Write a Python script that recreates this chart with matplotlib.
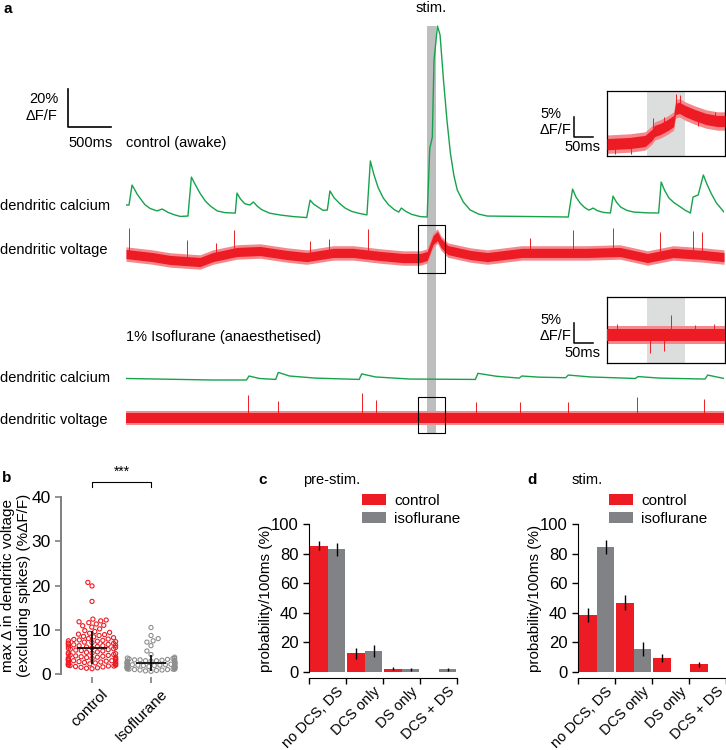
import numpy as np
import pandas as pd
import matplotlib
matplotlib.use('Agg')
import matplotlib.pyplot as plt
import seaborn as sns
from matplotlib.patches import Rectangle, Patch
from matplotlib.transforms import ScaledTranslation

plt.rcParams['font.family'] = ['Liberation Sans', 'DejaVu Sans']

W, H = 726, 750
RED = '#ed1c24'
LRED = '#f4888c'
GREEN = '#16a34c'
BGRAY = '#808285'
PGRAY = '#8f8f8f'
STIM = '#bcbec0'
LGRAY = '#dcdddd'

####################################### DATA #######################################

# panel a: stimulation window (s) and zoom window shown in the insets
stim_on, stim_off = 3.50, 3.60
zoom_t0, zoom_len = 3.395, 0.31

# control (awake) dendritic calcium, time (s) / dF/F (%)
ctrl_ca_t = [0.00, 0.035, 0.07, 0.10, 0.13, 0.17, 0.22, 0.28, 0.36, 0.42, 0.49, 0.56, 0.63, 0.72,
             0.76, 0.80, 0.86, 0.92, 0.98, 1.06, 1.15, 1.24, 1.27,
             1.29, 1.33, 1.38, 1.44, 1.48, 1.53, 1.58, 1.67, 1.80, 1.95, 2.10,
             2.14, 2.18, 2.23, 2.29, 2.34, 2.37, 2.42, 2.49, 2.55, 2.62, 2.70, 2.80,
             2.84, 2.88, 2.93, 2.99, 3.05, 3.12, 3.17, 3.20, 3.25, 3.32, 3.42, 3.50,
             3.53, 3.56, 3.58, 3.62, 3.65, 3.69, 3.73, 3.77, 3.81, 3.85, 3.92, 4.00, 4.10, 4.20,
             4.60, 5.14,
             5.19, 5.23, 5.28, 5.33, 5.38, 5.43, 5.48, 5.55, 5.63,
             5.66, 5.70, 5.75, 5.82, 5.90, 6.05, 6.19,
             6.22, 6.26, 6.31, 6.37, 6.44, 6.50, 6.56,
             6.59, 6.65, 6.71, 6.75, 6.80, 6.86, 6.93, 6.95]
ctrl_ca_v = [6.3, 6.3, 16.8, 14.5, 12.0, 9.5, 6.5, 4.5, 3.2, 4.2, 2.4, 1.2, 0.3, 0.5,
             21.0, 17.5, 12.5, 8.5, 5.8, 3.2, 2.3, 2.1, 2.1,
             12.6, 9.5, 7.0, 6.3, 7.9, 5.5, 3.8, 2.0, 1.0, 0.2, -0.3,
             8.9, 6.8, 5.3, 3.5, 3.7, 13.7, 10.0, 6.8, 4.6, 3.0, 2.0, 1.1,
             29.5, 22.5, 15.5, 10.0, 6.5, 3.8, 2.6, 4.7, 3.0, 1.4, 0.2, 0.0,
             36.0, 42.0, 82.6, 100.5, 95.8, 72.0, 51.0, 33.7, 22.0, 14.2, 7.9, 3.7, 1.5, 0.5,
             0.3, 0.0,
             14.7, 10.5, 7.2, 5.0, 3.6, 4.7, 3.3, 2.4, 2.1,
             11.0, 7.8, 5.2, 3.5, 2.6, 2.2, 2.1,
             18.4, 14.0, 10.0, 7.5, 5.4, 3.5, 2.1,
             10.5, 11.6, 22.1, 17.5, 12.5, 7.5, 3.7, 2.6]

# control (awake) dendritic voltage: slow baseline and spikes
ctrl_vm_t = [0, 0.31, 0.51, 0.86, 1.01, 1.29, 1.56, 1.87, 2.10, 2.41, 2.64, 2.95, 3.22, 3.42, 3.50,
             3.57, 3.62, 3.66, 3.74, 4.00, 4.20, 4.60, 4.97, 5.36, 5.74, 6.06, 6.36, 6.71, 6.95]
ctrl_vm_v = [0.5, -1.1, -2.6, -3.7, -1.1, 1.6, 2.1, 0.0, -1.1, 1.1, 1.1, -0.5, -1.6, -1.6, -0.5,
             7.9, 10.0, 6.3, 2.6, 0.0, -1.1, 1.1, 1.1, 1.1, 1.6, -1.6, 1.1, 0.0, -1.1]
ctrl_spk_t = [0.03, 0.71, 1.05, 1.26, 2.14, 2.36, 2.81, 4.69, 5.19, 5.66, 6.21, 6.59, 6.70]
ctrl_spk_h = [13.7, 11.1, 6.8, 12.1, 8.4, 7.9, 13.7, 7.9, 12.1, 12.6, 12.1, 12.1, 12.1]

# 1% isoflurane dendritic calcium
iso_ca_t = [0, 1.0, 1.40, 1.43, 1.55, 1.74, 1.77, 1.9, 2.2, 2.71, 2.74, 2.9, 3.3, 4.06, 4.09, 4.3,
            4.57, 4.60, 4.8, 5.11, 5.14, 5.4, 5.92, 5.95, 6.2, 6.73, 6.76, 6.95]
iso_ca_v = [0.8, 0.0, 0.0, 2.1, 0.8, 0.3, 4.0, 2.1, 1.0, 0.3, 3.2, 1.6, 0.5, 0.3, 3.5, 2.0,
            1.0, 2.1, 1.5, 1.2, 2.6, 1.6, 0.8, 1.8, 1.0, 0.5, 2.6, 0.8]

# 1% isoflurane dendritic voltage
iso_vm_t = [0, 3.5, 6.95]
iso_vm_v = [0.0, 0.0, 0.0]
iso_spk_t = [1.42, 1.77, 2.74, 2.91, 4.07, 4.58, 5.14, 5.94, 6.72]
iso_spk_h = [12.1, 8.9, 13.2, 9.5, 8.4, 8.4, 8.4, 11.1, 10.0]

# insets (zoom around stim), time (ms) / dF/F (%)
ins_ctrl_t = [0, 60, 100, 118, 125, 140, 160, 175, 180, 190, 205, 230, 260, 290, 310]
ins_ctrl_v = [-0.3, 0.0, 0.5, 2.0, 3.0, 3.5, 4.5, 5.5, 8.5, 8.8, 8.0, 7.0, 6.0, 5.5, 5.5]
ins_ctrl_spk_t = [20, 62, 121, 150, 181, 192, 240, 285]
ins_ctrl_spk_h = [-2.6, -2.8, 3.8, 2.4, 3.6, 3.2, -2.5, 2.2]
ins_iso_t = [0, 310]
ins_iso_v = [0.0, 0.0]
ins_iso_spk_t = [25, 113, 150, 168, 230, 280]
ins_iso_spk_h = [2.8, -4.5, -4.0, 5.0, 2.6, 2.8]

# panel b: max change in dendritic voltage (% dF/F)
ctrl_max = [20.7, 19.9, 16.4, 12.4, 12.2, 12.0, 11.8, 11.6, 11.3, 11.0, 10.9, 10.6, 10.2,
            9.8, 9.6, 9.4, 9.2, 9.0, 8.9, 8.7, 8.5, 8.4, 8.2, 8.0, 7.9, 7.8, 7.7, 7.6, 7.5, 7.4,
            7.3, 7.2, 7.1, 7.0, 6.9, 6.8, 6.7, 6.6, 6.5, 6.4, 6.4, 6.3, 6.2, 6.1, 6.0, 5.9, 5.8,
            5.7, 5.6, 5.5, 5.4, 5.3, 5.2, 5.0, 4.9, 4.8, 4.7, 4.6, 4.5, 4.4, 4.3, 4.2, 4.1, 4.0,
            3.9, 3.8, 3.8, 3.7, 3.6, 3.5, 3.5, 3.4, 3.3, 3.2, 3.2, 3.1, 3.0, 3.0, 2.9, 2.8, 2.8,
            2.7, 2.6, 2.6, 2.5, 2.4, 2.4, 2.3, 2.2, 2.2, 2.1, 2.0, 2.0, 1.9, 1.8, 1.8, 1.7, 1.6,
            1.5, 1.4, 1.3, 1.2]
iso_max = [10.5, 8.7, 8.0, 7.5, 7.2, 6.4, 5.2, 4.4, 3.8, 3.6, 3.5, 3.5, 3.4, 3.3, 3.2, 3.2,
           3.1, 3.0, 3.0, 3.0, 2.9, 2.9, 2.8, 2.8, 2.8, 2.7, 2.7, 2.7, 2.6, 2.6, 2.6, 2.5, 2.5,
           2.5, 2.4, 2.4, 2.4, 2.3, 2.3, 2.3, 2.2, 2.2, 2.2, 2.1, 2.1, 2.1, 2.0, 2.0, 2.0, 2.0,
           1.9, 1.9, 1.9, 1.8, 1.8, 1.8, 1.8, 1.7, 1.7, 1.7, 1.6, 1.6, 1.6, 1.6, 1.5, 1.5, 1.5,
           1.5, 1.4, 1.4, 1.4, 1.3, 1.3, 1.3, 1.3, 1.2, 1.2, 1.2, 1.1, 1.1, 1.1, 1.0, 1.0, 0.9,
           0.9, 0.8, 0.7, 0.6]

# panels c and d: event probability per 100 ms (%)
categories = ['no DCS, DS', 'DCS only', 'DS only', 'DCS + DS']
pre_ctrl = [85.3, 12.6, 2.3, 0.0]
pre_ctrl_err = [3.0, 3.5, 1.2, 0.0]
pre_iso = [83.0, 14.2, 1.8, 1.8]
pre_iso_err = [4.4, 4.2, 1.2, 1.2]
stim_ctrl = [38.5, 46.8, 9.2, 5.2]
stim_ctrl_err = [4.5, 5.0, 2.7, 1.8]
stim_iso = [84.4, 15.5, 0.0, 0.0]
stim_iso_err = [4.5, 4.8, 0.0, 0.0]


####################################### HELPERS #######################################

def rect(x0, y0, x1, y1):
    return [x0 / W, 1 - y1 / H, (x1 - x0) / W, (y1 - y0) / H]

def ftext(x, y, s, **kw):
    kw.setdefault('fontsize', 10.5)
    kw.setdefault('va', 'center')
    fig.text(x / W, 1 - y / H, s, **kw)

# noisy voltage trace drawn as a band around its slow baseline, spikes as lines
def volt_trace(ax, t, v, base, spk_t, spk_h, half, fringe, lw=0.8):
    t = np.array(t)
    v = np.array(v) + base
    ax.fill_between(t, v - fringe, v + fringe, color=LRED, lw=0, zorder=2)
    ax.fill_between(t, v - half, v + half, color=RED, lw=0, zorder=3)
    c = np.interp(spk_t, t, v)
    ax.vlines(spk_t, c, c + np.array(spk_h), color=RED, lw=lw, zorder=3)


fig = plt.figure(figsize=(W / 100, H / 100), dpi=100)

####################################### PANEL A #######################################

PXY = 1.9  # pixels per % dF/F in the traces
ax = fig.add_axes(rect(126, 20, 724, 435))
ax.set_xlim(0, 6.95)
ax.set_ylim(0, 415 / PXY)
ax.axis('off')

ca_base = (435 - 217) / PXY
vm_base = (435 - 255) / PXY
iso_ca_base = (435 - 380) / PXY
iso_vm_base = (435 - 418) / PXY

ax.axvspan(stim_on, stim_off, ymin=2 / 415, ymax=409 / 415, color=STIM, lw=0, zorder=0)

ax.plot(ctrl_ca_t, ca_base + np.array(ctrl_ca_v), color=GREEN, lw=1.0, zorder=3)
volt_trace(ax, ctrl_vm_t, ctrl_vm_v, vm_base, ctrl_spk_t, ctrl_spk_h, 2.4, 3.8, lw=0.7)
ax.plot(iso_ca_t, iso_ca_base + np.array(iso_ca_v), color=GREEN, lw=1.0, zorder=3)
volt_trace(ax, iso_vm_t, iso_vm_v, iso_vm_base, iso_spk_t, iso_spk_h, 2.4, 3.8, lw=0.7)

ax.add_patch(Rectangle((zoom_t0, vm_base - 9.4), zoom_len, 25.2, fill=False, ec='black',
                       lw=0.8, zorder=5, clip_on=False))
ax.add_patch(Rectangle((zoom_t0, iso_vm_base - 7.9), zoom_len, 19.0, fill=False, ec='black',
                       lw=0.8, zorder=5, clip_on=False))

# scale bar 500 ms / 20 %
sb_x = -58 / 86
sb_y = (435 - 127) / PXY
ax.plot([sb_x, sb_x, sb_x + 0.5], [sb_y + 20, sb_y, sb_y], color='black', lw=1.2, clip_on=False)

ftext(3, 9, 'a', fontweight='bold', fontsize=11)
ftext(431, 8, 'stim.', ha='center')
ftext(58, 99, '20%', ha='right')
ftext(58, 116, '\u0394F/F', ha='right')
ftext(68, 143, '500ms')
ftext(126, 143, 'control (awake)')
ftext(0, 206, 'dendritic calcium')
ftext(0, 250, 'dendritic voltage')
ftext(126, 337, '1% Isoflurane (anaesthetised)')
ftext(0, 378, 'dendritic calcium')
ftext(0, 420, 'dendritic voltage')

# insets
for (y0, y1, yb, tt, vv, st, sh, ylo) in [
        (91, 156, 143, ins_ctrl_t, ins_ctrl_v, ins_ctrl_spk_t, ins_ctrl_spk_h, 114),
        (297, 363, 335, ins_iso_t, ins_iso_v, ins_iso_spk_t, ins_iso_spk_h, 320)]:
    axi = fig.add_axes(rect(607, y0, 725, y1))
    axi.set_xlim(0, zoom_len * 1000)
    axi.set_ylim(-(y1 - yb) / 4, (yb - y0) / 4)
    axi.axvspan((stim_on - zoom_t0) * 1000, (stim_off - zoom_t0) * 1000, color=LGRAY, lw=0, zorder=0)
    volt_trace(axi, tt, vv, 0, st, sh, 1.4, 2.3, lw=0.7)
    axi.set_xticks([])
    axi.set_yticks([])
    for s in axi.spines.values():
        s.set_linewidth(0.9)
    # 5 % / 50 ms scale bar
    bx = -33 / 0.38
    by = -(ylo + 23 - yb) / 4
    axi.plot([bx, bx, bx + 50], [by + 5, by, by], color='black', lw=1.1, clip_on=False)
    ftext(561, ylo, '5%', ha='right')
    ftext(571, ylo + 16, '\u0394F/F', ha='right')
    ftext(582, ylo + 33, '50ms', ha='center')

####################################### PANEL B #######################################

axb = fig.add_axes(rect(61, 497, 200, 674))
df = pd.DataFrame({'group': ['control'] * len(ctrl_max) + ['Isoflurane'] * len(iso_max),
                   'value': ctrl_max + iso_max})
sns.swarmplot(data=df, x='group', y='value', hue='group', palette=[RED, PGRAY], size=3.0,
              ax=axb, legend=False, zorder=3)
for coll in axb.collections:
    fc = coll.get_facecolors()
    coll.set_edgecolors(fc)
    coll.set_facecolors('none')
    coll.set_linewidth(0.8)
    coll.set_clip_on(False)

for i, vals in enumerate([ctrl_max, iso_max]):
    m = np.mean(vals)
    s = np.std(vals, ddof=1)
    axb.hlines(m, i - 0.25, i + 0.25, color='black', lw=1.2, zorder=5)
    axb.vlines(i, m - s, m + s, color='black', lw=1.2, zorder=5)

axb.set_xlim(-0.525, 1.83)
axb.set_ylim(0, 40)
axb.set_yticks([0, 10, 20, 30, 40])
axb.set_xlabel('')
axb.set_ylabel('max \u0394 in dendritic voltage\n(excluding spikes) (%\u0394F/F)', fontsize=11)
axb.yaxis.set_label_coords(-0.215, 0.5)
for s in ['top', 'right']:
    axb.spines[s].set_visible(False)
axb.spines['bottom'].set_visible(False)
axb.spines['bottom'].set_position(('outward', 2.5))
axb.spines['left'].set_bounds(0, 40)
axb.spines['left'].set_color('#7f7f7f')
axb.spines['left'].set_linewidth(1.4)
axb.tick_params(axis='both', colors='#7f7f7f', width=1.2, length=4, labelsize=12.5,
                labelcolor='black')
axb.tick_params(axis='x', labelsize=11, pad=3)
plt.setp(axb.get_xticklabels(), rotation=45, ha='right', va='top', rotation_mode='anchor')
for lab in axb.get_xticklabels():
    lab.set_transform(lab.get_transform() + ScaledTranslation(0.09, 0, fig.dpi_scale_trans))

axb.plot([0, 0, 1, 1], [42.2, 43.4, 43.4, 42.2], color='black', lw=0.8, clip_on=False)
axb.text(0.5, 44.2, '***', ha='center', va='bottom', fontsize=10)
ftext(2, 478, 'b', fontweight='bold', fontsize=11)

####################################### PANELS C, D #######################################

def bar_panel(axp, ctrl, ctrl_err, iso, iso_err, legend_x):
    x = np.arange(len(categories))
    axp.bar(x + 0.265, ctrl, 0.47, yerr=ctrl_err, color=RED, ecolor='black',
            error_kw=dict(elinewidth=1.0, capsize=0))
    axp.bar(x + 0.745, iso, 0.47, yerr=iso_err, color=BGRAY, ecolor='black',
            error_kw=dict(elinewidth=1.0, capsize=0))
    for s in ['top', 'right']:
        axp.spines[s].set_visible(False)
    axp.spines['left'].set_bounds(0, 100)
    axp.spines['bottom'].set_position(('outward', 4))
    axp.set_xlim(0, 4)
    axp.set_ylim(0, 100)
    axp.set_yticks([0, 20, 40, 60, 80, 100])
    axp.set_xticks(range(5))
    axp.set_xticklabels([])
    axp.set_xticks(x + 0.74, minor=True)
    axp.set_xticklabels(categories, minor=True, fontsize=10.5)
    axp.tick_params(axis='x', which='minor', length=0, pad=5)
    axp.tick_params(axis='x', which='major', length=4, width=1.0)
    axp.tick_params(axis='y', length=4, width=1.0, labelsize=12)
    plt.setp(axp.get_xticklabels(minor=True), rotation=45, ha='right', va='top',
             rotation_mode='anchor')
    axp.set_ylabel('probability/100ms (%)', fontsize=11)
    axp.yaxis.set_label_coords(-0.24, 0.5)
    handles = [Patch(fc=RED), Patch(fc=BGRAY)]
    axp.legend(handles, ['control', 'isoflurane'], loc='upper left',
               bbox_to_anchor=(legend_x / W, 1 - 494 / H), bbox_transform=fig.transFigure,
               frameon=False, borderpad=0, borderaxespad=0, handlelength=1.6,
               handleheight=0.75, handletextpad=0.5, labelspacing=0.25, fontsize=11)

axc = fig.add_axes(rect(309, 524, 457, 672))
bar_panel(axc, pre_ctrl, pre_ctrl_err, pre_iso, pre_iso_err, 362)
ftext(258, 480, 'c', fontweight='bold', fontsize=11)
ftext(303, 480, 'pre-stim.')

axd = fig.add_axes(rect(578, 524, 726, 672))
bar_panel(axd, stim_ctrl, stim_ctrl_err, stim_iso, stim_iso_err, 609)
ftext(527, 480, 'd', fontweight='bold', fontsize=11)
ftext(572, 480, 'stim.')

fig.savefig('out.png', dpi=100)
